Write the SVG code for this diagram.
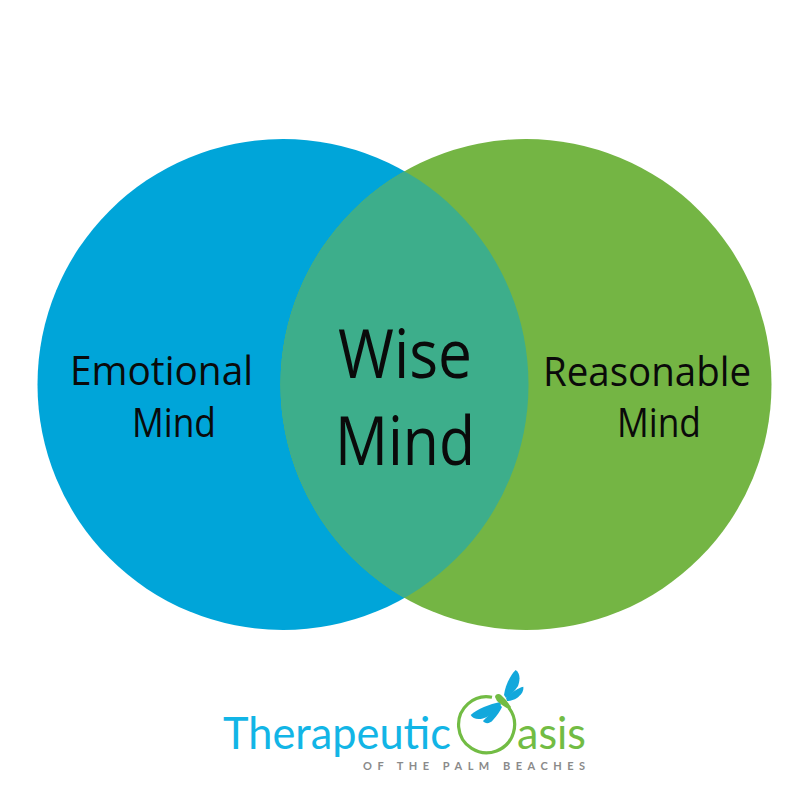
<svg xmlns="http://www.w3.org/2000/svg" width="800" height="800" viewBox="0 0 800 800">
<style>
.hand{font-family:"Open Sans","DejaVu Sans",sans-serif;fill:#0a0a0a;font-weight:400}
.side{font-size:41px}
.big{font-size:68px}
.logo{font-family:"Lato","Liberation Sans",sans-serif;font-size:45px;font-weight:400}
.tag{font-family:"Lato","Liberation Sans",sans-serif;font-size:11px;font-weight:700;fill:#8a8a8a}
.wing{fill:#12A8DC}
</style>
<defs>
<clipPath id="leftClip"><circle cx="283" cy="384.500" r="245.500"/></clipPath>
</defs>
<rect width="800" height="800" fill="#ffffff"/>
<g id="emotional-mind">
<circle cx="283" cy="384.500" r="245.500" fill="#00A5D9"/>
<text class="hand side" x="70" y="385" textLength="183" lengthAdjust="spacingAndGlyphs">Emotional</text>
<text class="hand side" x="132" y="437" textLength="84" lengthAdjust="spacingAndGlyphs">Mind</text>
</g>
<g id="reasonable-mind">
<circle cx="526" cy="384.500" r="245.500" fill="#74B544"/>
<text class="hand side" x="543" y="386" textLength="208" lengthAdjust="spacingAndGlyphs">Reasonable</text>
<text class="hand side" x="617" y="437" textLength="84" lengthAdjust="spacingAndGlyphs">Mind</text>
</g>
<g id="wise-mind">
<circle cx="526" cy="384.500" r="245.500" fill="#3DAE8B" clip-path="url(#leftClip)"/>
<text class="hand big" x="338" y="378" textLength="134" lengthAdjust="spacingAndGlyphs">Wise</text>
<text class="hand big" x="335" y="465" textLength="140" lengthAdjust="spacingAndGlyphs">Mind</text>
</g>
<g id="logo">
<text class="logo" x="223" y="749" fill="#12B5E6" textLength="228" lengthAdjust="spacingAndGlyphs">Therapeutic</text>
<text class="logo" x="517" y="749" fill="#72BC44" textLength="69" lengthAdjust="spacingAndGlyphs">asis</text>
<path d="M 492 697.300 A 28 28 0 1 0 509 708" fill="none" stroke="#72BC44" stroke-width="3.200"/>
<path d="M 504 695 C 505 687 510 675 515.700 670 C 520 673 520.500 679 518 686 C 515 691 510 696 506 698 Z" class="wing"/>
<path d="M 506 698 C 510 694 517 688 523.300 686.700 C 524 691 521 695 517 698 C 514 700 510 701 507 701 Z" class="wing"/>
<path d="M 500 702 C 490 704 477 709 470.700 715 C 473 720 481 720 487 717 C 492 714 498 709 501 705 Z" class="wing"/>
<path d="M 500 705 C 495 709 488 716 483 721 C 485 724 490 724 493 720 C 497 716 500 711 502 707 Z" class="wing"/>
<path d="M 495 697 C 495 694 499 693 501 695 L 506 700 L 511 707 L 509 709.500 L 502 705 L 497 701 Z" fill="#72BC44"/>
<text class="tag" x="363" y="770" textLength="222" lengthAdjust="spacing">OF THE PALM BEACHES</text>
</g>
</svg>
